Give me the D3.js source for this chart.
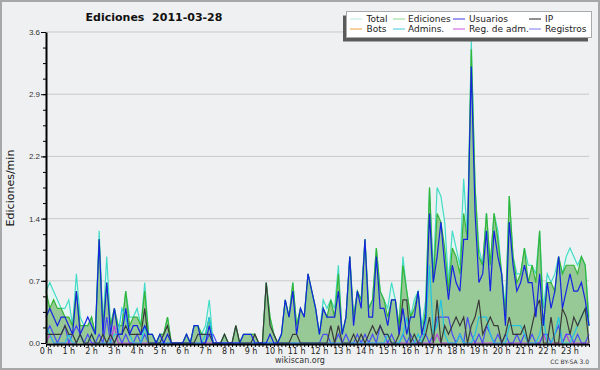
<!DOCTYPE html>
<html>
<head>
<meta charset="utf-8">
<script src="https://d3js.org/d3.v7.min.js"></script>
<style>
  body { margin: 0; background: #eff0f1; }
  svg { display: block; font-family: "DejaVu Sans", sans-serif; }
  .axis path, .axis line { stroke: #000; }
  .axis text { font-size: 8px; fill: #333; }
</style>
</head>
<body>
<script>
  // values per 10 minutes (edits/min), 144 points for the day
  var total = [
    .6,.7,.6,.5,.4,.4, .5,.2,.8,.3,.2,.2,
    .3,.1,1.3,.2,1.0,.2, .4,.2,.2,.6,.3,.3,
    .4,.2,.7,.1,.1,0, .1,.1,.3,0,0,0,
    0,.1,0,.2,.2,.1, .2,.5,0,0,0,.1,
    0,0,.2,0,.1,.1, .1,.1,0,0,.7,.3,
    .1,0,.1,.5,.3,.7, .2,.4,.3,.8,.6,.4,
    .1,.5,.4,.5,.4,.9, .1,.3,1.0,.3,.6,.5,
    1.2,.4,.5,1.1,.6,.5, .4,.7,.5,.2,1.0,.6,
    .3,.5,.6,.2,.5,1.8, .8,1.8,1.7,1.4,.7,1.3,
    1.1,.9,1.9,1.2,3.5,1.8, 1.1,.9,1.5,.9,1.5,1.3,
    .8,.4,1.7,1.0,.8,.8, 1.1,.9,.9,.8,1.3,.4,
    .8,.7,.8,1.0,.8,1.0, 1.1,1.0,.9,1.0,.9,.3
  ];
  var ediciones = [
    .6,.4,.5,.4,.4,.3, .3,.2,.6,.2,.2,.2,
    .3,.1,1.2,.2,.7,.2, .4,.2,.2,.6,.2,.3,
    .3,.2,.6,.1,.1,0, .1,.1,.3,0,0,0,
    0,.1,0,.2,.2,.1, .1,.3,0,0,0,.1,
    0,0,.2,0,.1,.1, .1,.1,0,0,.7,.3,
    .1,0,.1,.5,.3,.7, .2,.4,.3,.8,.6,.4,
    .1,.4,.3,.5,.3,.8, .1,.3,1.0,.3,.6,.5,
    1.2,.4,.5,1.1,.6,.5, .3,.5,.5,.2,.9,.6,
    .3,.4,.6,.1,.4,1.8, .7,1.5,1.4,1.1,.6,1.1,
    1.0,.8,1.5,1.2,3.4,1.8, 1.0,.9,1.5,.9,1.5,1.2,
    .8,.3,1.7,1.0,.7,.8, 1.1,.7,.9,.7,1.3,.2,
    .7,.7,.6,1.0,.8,.9, .9,.9,.8,1.0,.9,.2
  ];
  var usuarios = [
    .3,.4,.3,.2,.3,.3, .2,.1,.6,.1,.2,.3,
    .2,.1,1.2,.1,.7,.1, .4,.1,.1,.4,.1,.2,
    .2,.1,.2,.1,.1,0, .1,0,.1,0,0,0,
    0,.1,0,.2,.2,0, 0,.2,0,0,0,0,
    0,0,0,0,.1,.1, .1,0,0,0,0,.1,
    0,0,.1,.5,.3,.6, .1,.4,.3,.8,.6,.4,
    .1,.4,.3,.3,.3,.6, .1,.3,1.0,.2,.6,.4,
    1.2,.3,.3,1.0,.4,.4, .2,.5,.5,.1,.4,.1,
    .3,.3,.6,.1,.3,1.5, .7,1.0,1.4,.9,.5,.9,
    .7,.6,1.2,1.2,3.2,1.5, .7,.8,1.3,.6,1.3,1.0,
    .8,.2,1.4,.9,.6,.7, .9,.7,.7,.3,.8,.2,
    .7,.4,.6,1.0,.4,.6, .8,.6,.6,.7,.5,.2
  ];
  var ip = [
    .1,.1,.1,.1,.1,.2, .1,.1,0,.1,0,0,
    .1,0,0,.1,0,.1, 0,.1,.1,.2,.1,.1,
    .1,.1,.4,0,0,0, 0,.1,.2,0,0,0,
    0,0,0,0,.1,.1, .1,.1,0,0,0,.1,
    0,0,.2,0,0,0, 0,.1,0,0,.7,.2,
    .1,0,0,0,0,.1, .1,0,0,0,0,0,
    0,0,0,.2,0,.2, 0,0,0,.1,0,.1,
    0,.1,.2,.1,.2,.1, .1,0,0,.1,.5,.5,
    0,.1,0,0,.1,.3, 0,.5,0,.2,.1,.2,
    .3,.2,.3,0,.2,.3, .5,.1,.2,.3,.2,.2,
    0,.1,.3,.1,.1,.1, .2,0,.2,.4,.5,0,
    0,.3,0,0,.4,.3, .1,.3,.2,.3,.4,0
  ];
  var admins = [
    .2,.1,0,0,0,0, .1,0,0,.1,0,0,
    .1,0,0,0,0,0, .1,.1,.4,.3,.1,0,
    0,0,.2,0,0,0, 0,0,0,0,0,0,
    0,0,0,0,0,0, .1,.3,0,0,0,0,
    0,0,0,0,0,0, 0,0,0,0,0,0,
    0,0,0,0,0,0, 0,0,0,0,0,0,
    0,0,0,0,0,0, 0,0,0,0,0,0,
    0,0,0,0,0,0, .1,0,0,0,.1,.3,
    0,0,.1,0,.2,.9, .1,.2,.5,.1,0,0,
    0,.1,0,0,0,.1, .3,.3,.3,.1,0,0,
    0,0,.2,.2,.2,.2, .1,0,0,0,.1,.3,
    0,0,.1,.3,0,0, 0,.1,.2,.3,.4,.2
  ];
  var registros = [
    .1,.2,.1,0,.1,.2, 0,.1,.2,.1,0,.1,
    0,0,.1,0,.3,0, 0,.1,0,.1,0,0,
    .1,0,.1,0,0,0, 0,0,0,0,0,0,
    0,0,0,0,0,0, 0,.1,.1,0,0,0,
    0,0,0,0,0,0, 0,0,0,0,0,0,
    0,0,0,0,0,0, 0,0,0,0,0,0,
    0,.1,.1,0,0,.1, 0,.1,0,0,.1,0,
    .1,0,.1,0,.2,.1, 0,.1,0,0,.1,0,
    .1,0,0,.1,.1,0, .1,.3,.3,.3,.3,.1,
    0,.1,0,.3,.1,0, .1,0,.2,.1,0,.1,
    0,.1,0,0,.1,0, .1,0,.1,0,0,.1,
    .1,0,.1,.2,0,.1, .1,0,.1,0,0,.1
  ];
  var regAdm = [
    0,.1,0,0,0,0, 0,0,0,.1,0,0,
    0,0,0,0,0,0, .2,0,0,0,0,0,
    0,0,0,0,0,0, 0,0,0,0,0,0,
    0,0,0,0,0,0, 0,0,0,0,0,0,
    0,0,0,0,0,0, 0,0,0,0,0,0,
    0,0,0,0,0,0, 0,0,0,0,0,0,
    0,0,0,0,0,0, 0,0,0,0,0,0,
    0,0,0,0,0,0, 0,0,0,0,0,0,
    0,0,0,0,0,0, 0,.1,0,0,0,0,
    0,.1,0,0,0,0, 0,0,0,0,0,0,
    0,0,0,0,0,0, 0,0,0,0,0,.1,
    0,0,0,0,0,.1, 0,0,0,0,0,0
  ];
  var hourLabels = ["0 h","1 h","2 h","3 h","4 h","5 h","6 h","7 h","8 h","9 h","10 h","11 h",
                    "12 h","13 h","14 h","15 h","16 h","17 h","18 h","19 h","20 h","21 h","22 h","23 h"];
  var yTicks = [0, 0.72, 1.44, 2.16, 2.88, 3.6];

  var legendItems = [
    {name: "Total", color: "#b4e8e2"},
    {name: "Ediciones", color: "#90d890"},
    {name: "Usuarios", color: "#3a3ae0"},
    {name: "IP", color: "#222"},
    {name: "Bots", color: "#f0a040"},
    {name: "Admins.", color: "#44c8dc"},
    {name: "Reg. de adm.", color: "#d050e0"},
    {name: "Registros", color: "#7878f0"}
  ];

  var width = 600, height = 370;
  var svg = d3.select("body").append("svg")
    .attr("width", width).attr("height", height);

  svg.append("rect").attr("x", 1).attr("y", 1)
    .attr("width", width - 2).attr("height", height - 2)
    .attr("fill", "#eff0f1").attr("stroke", "#a8a8a8").attr("stroke-width", 2);

  var x = d3.scaleLinear().domain([0, 143]).range([46, 589]);
  var y = d3.scaleLinear().domain([0, 3.6]).range([343, 32]);

  // grid
  svg.append("g").selectAll("line").data(yTicks.slice(1)).join("line")
    .attr("x1", x(0)).attr("x2", x(143))
    .attr("y1", d => y(d)).attr("y2", d => y(d))
    .attr("stroke", "#c9c9c9").attr("stroke-width", 1);

  var area = d3.area().x((d, i) => x(i)).y0(y(0)).y1(d => y(d));
  var line = d3.line().x((d, i) => x(i)).y(d => y(d));

  svg.append("path").datum(total).attr("d", area).attr("fill", "#e2f5f1");
  svg.append("path").datum(ediciones).attr("d", area).attr("fill", "#97c997");

  function drawLine(data, color) {
    svg.append("path").datum(data).attr("d", line)
      .attr("fill", "none").attr("stroke", color).attr("stroke-width", 1.2)
      .attr("stroke-linejoin", "miter");
  }
  drawLine(total, "#44dcc8");
  drawLine(ediciones, "#36b436");
  drawLine(regAdm, "#c040e0");
  drawLine(registros, "#4a4af6");
  drawLine(admins, "#22c4e2");
  drawLine(ip, "#3a3a3a");
  drawLine(usuarios, "#1424e0");

  // y axis
  svg.append("g").attr("class", "axis")
    .attr("transform", "translate(46,0)")
    .call(d3.axisLeft(y).tickValues(d3.range(0, 21).map(k => k * 0.18)).tickSize(3).tickFormat(""))
    .call(g => g.select(".domain").remove());
  svg.append("g").attr("class", "axis")
    .attr("transform", "translate(46,0)")
    .call(d3.axisLeft(y).tickValues(yTicks).tickSize(5).tickSizeOuter(0).tickFormat(d => d.toFixed(1)).tickPadding(1))
    .call(g => g.select(".domain").attr("stroke-width", 2));

  // x axis
  svg.append("g").attr("class", "axis")
    .attr("transform", "translate(0,344)")
    .call(d3.axisBottom(x).tickValues(d3.range(0, 144)).tickSize(3).tickSizeOuter(0).tickFormat(""))
    .call(g => g.select(".domain").attr("stroke-width", 2));
  svg.append("g").selectAll("text").data(hourLabels).join("text")
    .attr("x", (d, i) => x(i * 6)).attr("y", 353.5)
    .attr("text-anchor", "middle").attr("font-size", 8).attr("fill", "#222")
    .text(d => d);

  // titles
  svg.append("text").attr("x", 154).attr("y", 21).attr("text-anchor", "middle")
    .attr("font-size", 11).attr("font-weight", "bold").attr("fill", "#111")
    .style("white-space", "pre")
    .text("Ediciones  2011-03-28");
  svg.append("text").attr("transform", "translate(14,188) rotate(-90)")
    .attr("text-anchor", "middle").attr("font-size", 11).attr("fill", "#111")
    .text("Ediciones/min");
  svg.append("text").attr("x", 300).attr("y", 363).attr("text-anchor", "middle")
    .attr("font-size", 8).attr("fill", "#333").text("wikiscan.org");
  svg.append("text").attr("x", 589).attr("y", 364).attr("text-anchor", "end")
    .attr("font-size", 6).attr("fill", "#333").text("CC BY-SA 3.0");

  // legend
  var lg = svg.append("g");
  lg.append("rect").attr("x", 343).attr("y", 15.5).attr("width", 245).attr("height", 26).attr("fill", "#5a5a5a");
  lg.append("rect").attr("x", 346.5).attr("y", 11.5).attr("width", 245).attr("height", 26)
    .attr("fill", "#fff").attr("stroke", "#aaa");
  var colX = [350, 393, 453, 529];
  var colT = [366.5, 408, 469, 545];
  legendItems.forEach(function(d, k) {
    var c = k % 4, r = Math.floor(k / 4);
    var yy = 19 + r * 10;
    lg.append("line").attr("x1", colX[c]).attr("x2", colX[c] + 12)
      .attr("y1", yy).attr("y2", yy).attr("stroke", d.color).attr("stroke-width", 1);
    lg.append("text").attr("x", colT[c]).attr("y", yy + 3)
      .attr("font-size", 9).attr("fill", "#222").text(d.name);
  });
</script>
</body>
</html>
